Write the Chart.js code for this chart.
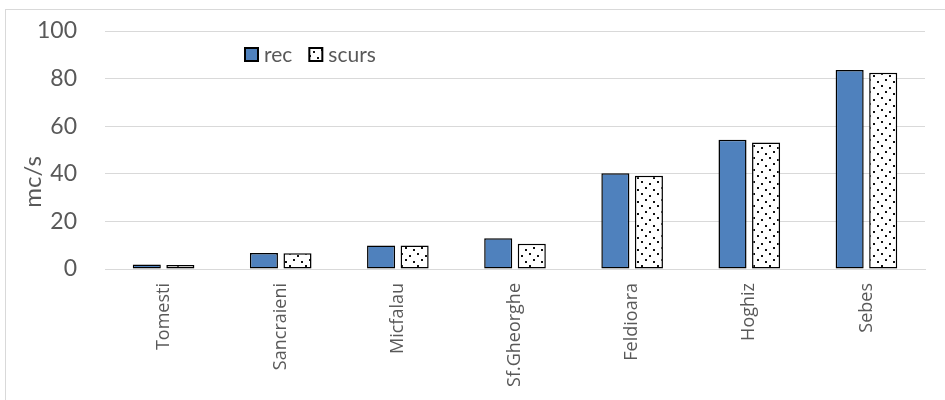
<!DOCTYPE html>
<html>
<head>
<meta charset="utf-8">
<title>Debite</title>
<script src="https://cdn.jsdelivr.net/npm/chart.js@4"></script>
<style>
  html, body { margin: 0; padding: 0; background: #fff; }
  #wrap { position: relative; width: 945px; height: 400px; overflow: hidden; }
  #frame { position: absolute; left: 5px; top: 9px; width: 1000px; height: 500px;
           border-left: 1px solid #d9d9d9; border-top: 1px solid #d9d9d9; }
  #chart { position: absolute; left: 0; top: 0; }
</style>
</head>
<body>
<div id="wrap">
  <div id="frame"></div>
  <canvas id="chart" width="945" height="400"></canvas>
</div>
<script>
// statii hidrometrice si debitele (mc/s)
const statii = ['Tomesti', 'Sancraieni', 'Micfalau', 'Sf.Gheorghe', 'Feldioara', 'Hoghiz', 'Sebes'];
const rec = [1.9, 6.7, 9.9, 12.9, 40.2, 54.3, 83.6];
const scurs = [1.7, 6.6, 9.9, 10.6, 39.2, 53.1, 82.5];
const yTicks = [0, 20, 40, 60, 80, 100];

// hasura cu puncte pentru seria "scurs"
function dotPattern() {
    const c = document.createElement('canvas');
    c.width = 16;
    c.height = 12;
    const g = c.getContext('2d');
    g.fillStyle = '#fff';
    g.fillRect(0, 0, 16, 12);
    g.fillStyle = '#111';
    g.fillRect(1, 1, 2, 2);
    g.fillRect(9, 3, 2, 2);
    g.fillRect(5, 7, 2, 2);
    g.fillRect(13, 9, 2, 2);
    return document.getElementById('chart').getContext('2d').createPattern(c, 'repeat');
}
const dots = dotPattern();

// titlul axei Y si legenda din interiorul graficului
const extras = {
    id: 'extras',
    afterDraw(chart) {
        const ctx = chart.ctx;
        ctx.save();
        ctx.fillStyle = '#595959';
        ctx.font = '24px Lato';
        ctx.textAlign = 'center';
        ctx.textBaseline = 'middle';
        ctx.translate(33, 182);
        ctx.rotate(-Math.PI / 2);
        ctx.fillText('mc/s', 0, 0);
        ctx.restore();

        ctx.save();
        ctx.font = '21px Lato';
        ctx.textBaseline = 'middle';
        let x = 245;
        chart.data.datasets.forEach(ds => {
            ctx.fillStyle = ds.backgroundColor;
            ctx.fillRect(x, 48, 13, 13);
            ctx.strokeStyle = '#000';
            ctx.lineWidth = 2;
            ctx.strokeRect(x, 48, 13, 13);
            ctx.fillStyle = '#595959';
            ctx.fillText(ds.label, x + 19, 55);
            x += 19 + ctx.measureText(ds.label).width + 17;
        });
        ctx.restore();
    }
};

const ctx = document.getElementById('chart').getContext('2d');
const chart = new Chart(ctx, {
    type: 'bar',
    data: {
        labels: statii,
        datasets: [{
            label: 'rec',
            data: rec,
            backgroundColor: '#4f81bd',
            borderColor: '#000',
            borderWidth: 1.5,
            borderSkipped: false
        }, {
            label: 'scurs',
            data: scurs,
            backgroundColor: dots,
            borderColor: '#000',
            borderWidth: 1.5,
            borderSkipped: false
        }]
    },
    options: {
        responsive: false,
        animation: false,
        categoryPercentage: 0.573,
        barPercentage: 0.836,
        layout: { padding: { left: 5, right: 20, top: 31, bottom: 0 } },
        plugins: {
            legend: { display: false },
            tooltip: { enabled: false }
        },
        scales: {
            x: {
                grid: { display: false, drawTicks: false },
                border: { color: '#d9d9d9', width: 1 },
                ticks: {
                    color: '#595959',
                    font: { family: 'Open Sans', size: 18 },
                    maxRotation: 90,
                    minRotation: 90,
                    padding: 14,
                    autoSkip: false
                },
                afterFit(scale) { scale.height = 131; }
            },
            y: {
                min: 0,
                max: 100,
                grid: { color: '#d9d9d9', lineWidth: 1, drawTicks: false },
                border: { display: false },
                afterBuildTicks(scale) { scale.ticks = yTicks.map(v => ({ value: v })); },
                ticks: {
                    color: '#595959',
                    font: { family: 'Lato', size: 23 },
                    padding: 28
                },
                afterFit(scale) {
                    scale.width = 100;
                    scale.paddingTop = 0;
                    scale.paddingBottom = 0;
                }
            }
        }
    },
    plugins: [extras]
});
</script>
</body>
</html>
